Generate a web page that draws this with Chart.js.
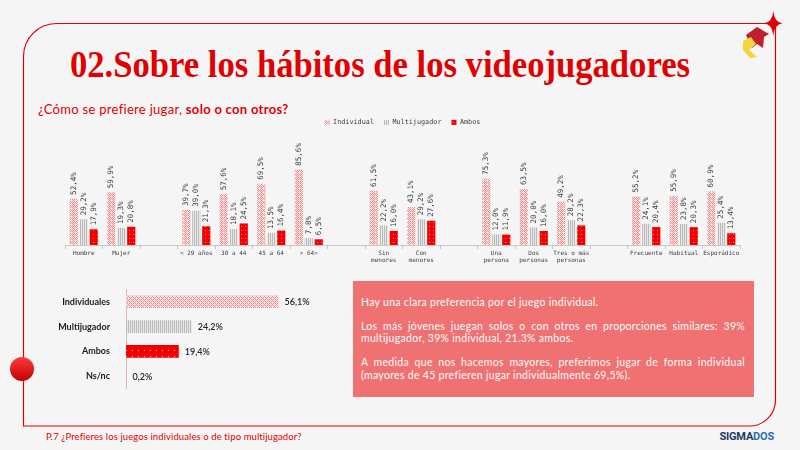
<!DOCTYPE html>
<html>
<head>
<meta charset="utf-8">
<script src="https://cdn.jsdelivr.net/npm/chart.js@4.4.1/dist/chart.umd.min.js"></script>
<style>
  html, body { margin: 0; padding: 0; background: #f5f5f5; }
  #pagina { position: relative; width: 800px; height: 450px; overflow: hidden; background: #f5f5f5; font-family: Lato, sans-serif; }
  #marco { position: absolute; left: 0; top: 0; }
  #titulo { position: absolute; left: 70px; top: 45px; font: bold 38px "Liberation Serif", serif; line-height: 38px; color: #e00000; white-space: nowrap; transform-origin: 0 0; }
  #subtitulo { position: absolute; left: 38px; top: 102px; font-size: 13px; line-height: 15px; letter-spacing: 0.3px; color: #e00000; white-space: nowrap; }
  #subtitulo b { font-weight: 700; }
  #grupos { position: absolute; left: 0; top: 109px; }
  #totales { position: absolute; left: 40px; top: 276px; }
  #nota { position: absolute; left: 353px; top: 281px; width: 401px; height: 116px; box-sizing: border-box; padding: 15px 9px 0 8px; background: #f07171; color: #fff; font-size: 10.5px; line-height: 12.7px; letter-spacing: 0.3px; text-align: justify; }
  #nota p { margin: 0 0 11px 0; }
  #pie { position: absolute; left: 46px; top: 431px; font-size: 9.5px; line-height: 12px; letter-spacing: 0.1px; color: #e00000; white-space: nowrap; }
  #marca { position: absolute; right: 26px; top: 430px; font: bold 11px Roboto, sans-serif; line-height: 14px; color: #1e3a66; letter-spacing: -0.2px; }
  #marca span { color: #2f6db0; }
</style>
</head>
<body>
<div id="pagina">
  <svg id="marco" width="800" height="450">
    <defs>
      <linearGradient id="bola" x1="0" y1="0" x2="0" y2="1">
        <stop offset="0" stop-color="#ff3a3a"/>
        <stop offset="1" stop-color="#c40000"/>
      </linearGradient>
    </defs>
    <path d="M56 23.5 H780 M775.5 23 V400 A26 26 0 0 1 749.5 426 H23.5 V56 A33 33 0 0 1 56 23.5"
          fill="none" stroke="#e00000" stroke-width="1.2"/>
    <path d="M773.3 11 Q774.3 22.3 782.5 23.3 Q774.3 24.3 773.3 35.5 Q772.3 24.3 764 23.3 Q772.3 22.3 773.3 11 Z" fill="#e00000"/>
    <path d="M746 35 L757 27 L769 34 L764 37 L763 48 L757 44 L752 48 Z" fill="#c21f2c"/>
    <path d="M743 41 L751 37 L756 44 L749 50 L757 57 L750 58 L743 50 Z" fill="#f3d53c"/>
    <circle cx="22" cy="369" r="12" fill="url(#bola)"/>
  </svg>

  <div id="titulo">02.Sobre los hábitos de los videojugadores</div>
  <div id="subtitulo">¿Cómo se prefiere jugar, <b>solo o con otros?</b></div>

  <canvas id="grupos" width="800" height="164"></canvas>
  <canvas id="totales" width="300" height="126"></canvas>

  <div id="nota">
    <p>Hay una clara preferencia por el juego individual.</p>
    <p>Los más jóvenes juegan solos o con otros en proporciones similares: 39% multijugador, 39% individual, 21.3% ambos.</p>
    <p>A medida que nos hacemos mayores, preferimos jugar de forma individual (mayores de 45 prefieren jugar individualmente 69,5%).</p>
  </div>

  <div id="pie">P.7 ¿Prefieres los juegos individuales o de tipo multijugador?</div>
  <div id="marca">SIGMA<span>DOS</span></div>
</div>

<script>
// datos del gráfico por segmentos ('' = hueco entre bloques)
const categorias = ['Hombre', 'Mujer', '', '< 29 años', '30 a 44', '45 a 64', '> 64>', '',
  ['Sin', 'menores'], ['Con', 'menores'], '',
  ['Una', 'persona'], ['Dos', 'personas'], ['Tres o más', 'personas'], '',
  'Frecuente', 'Habitual', 'Esporádico'];
const individual   = [52.4, 59.9, null, 39.7, 57.6, 69.5, 85.6, null, 61.5, 43.1, null, 75.3, 63.5, 49.2, null, 55.2, 55.9, 60.9];
const multijugador = [29.2, 19.3, null, 39.0, 18.1, 13.5, 7.8, null, 22.2, 29.2, null, 12.0, 20.0, 28.2, null, 24.1, 23.8, 25.4];
const ambos        = [17.9, 20.8, null, 21.3, 24.5, 16.4, 6.5, null, 16.0, 27.6, null, 11.9, 16.0, 22.3, null, 20.4, 20.3, 13.4];

// datos del total
const totalCategorias = ['Individuales', 'Multijugador', 'Ambos', 'Ns/nc'];
const totalValores = [56.1, 24.2, 19.4, 0.2];

// tramas de relleno
function trama(ancho, alto, fondo, puntos, color) {
  const c = document.createElement('canvas');
  c.width = ancho; c.height = alto;
  const g = c.getContext('2d');
  g.fillStyle = fondo;
  g.fillRect(0, 0, ancho, alto);
  g.fillStyle = color;
  puntos.forEach(([x, y]) => g.fillRect(x, y, 1, 1));
  return g.createPattern(c, 'repeat');
}

const tramaIndividual = trama(4, 4, '#fbe4e4', [[0, 0], [2, 0], [1, 1], [3, 1], [0, 2], [2, 2], [1, 3]], '#ec8e8e');
const tramaMulti = trama(2, 1, '#e8e8e8', [[0, 0]], '#b9b9b9');
const tramaAmbos = trama(4, 4, '#f20000', [[1, 1]], '#ff7070');
const tramaIndividual2 = trama(4, 4, '#fae2e2', [[0, 0], [1, 1], [2, 2], [3, 3], [3, 1], [1, 3]], '#e89292');
const tramaAmbos2 = trama(6, 6, '#f20000', [[2, 2]], '#ffb0b0');

const pct = v => v.toFixed(1).replace('.', ',') + '%';

const etiquetasVerticales = {
  id: 'etiquetasVerticales',
  afterDatasetsDraw(chart) {
    const ctx = chart.ctx;
    ctx.save();
    ctx.font = '7.5px "DejaVu Sans Mono"';
    ctx.fillStyle = '#404040';
    ctx.textAlign = 'left';
    ctx.textBaseline = 'middle';
    chart.data.datasets.forEach((ds, i) => {
      chart.getDatasetMeta(i).data.forEach((barra, j) => {
        const v = ds.data[j];
        if (v == null) return;
        ctx.save();
        ctx.translate(barra.x, barra.y - 4);
        ctx.rotate(-Math.PI / 2);
        ctx.fillText(pct(v), 0, 0);
        ctx.restore();
      });
    });
    ctx.restore();
  }
};

const alturaLeyenda = {
  id: 'alturaLeyenda',
  beforeInit(chart) {
    const fitOriginal = chart.legend.fit;
    chart.legend.fit = function () {
      fitOriginal.bind(chart.legend)();
      this.height = 48;
    };
  }
};

new Chart(document.getElementById('grupos'), {
  type: 'bar',
  data: {
    labels: categorias,
    datasets: [
      { label: 'Individual', data: individual, backgroundColor: tramaIndividual, borderWidth: 0 },
      { label: 'Multijugador', data: multijugador, backgroundColor: tramaMulti, borderWidth: 0 },
      { label: 'Ambos', data: ambos, backgroundColor: tramaAmbos, borderWidth: 0 }
    ]
  },
  options: {
    responsive: false,
    animation: false,
    categoryPercentage: 0.8,
    barPercentage: 0.82,
    layout: { padding: { left: 65, right: 60 } },
    plugins: {
      legend: {
        position: 'top',
        labels: {
          boxWidth: 5,
          boxHeight: 5,
          padding: 10,
          color: '#404040',
          font: { family: '"DejaVu Sans Mono"', size: 6.8 }
        }
      },
      tooltip: { enabled: false }
    },
    scales: {
      x: {
        afterFit: (scale) => { scale.height = 28; },
        grid: { drawOnChartArea: false, tickLength: 4, color: '#c8c8c8' },
        border: { color: '#c8c8c8' },
        ticks: {
          autoSkip: false,
          maxRotation: 0,
          padding: 1,
          color: '#404040',
          font: { family: '"DejaVu Sans Mono"', size: 6 }
        }
      },
      y: { display: false, min: 0, max: 100 }
    }
  },
  plugins: [etiquetasVerticales, alturaLeyenda]
});

const etiquetasTotales = {
  id: 'etiquetasTotales',
  afterDatasetsDraw(chart) {
    const ctx = chart.ctx;
    ctx.save();
    ctx.font = '600 9px Lato';
    ctx.fillStyle = '#262626';
    ctx.textAlign = 'left';
    ctx.textBaseline = 'middle';
    chart.getDatasetMeta(0).data.forEach((barra, j) => {
      ctx.fillText(pct(totalValores[j]), barra.x + 6, barra.y + 0.5);
    });
    ctx.restore();
  }
};

new Chart(document.getElementById('totales'), {
  type: 'bar',
  data: {
    labels: totalCategorias,
    datasets: [{
      data: totalValores,
      backgroundColor: [tramaIndividual2, tramaMulti, tramaAmbos2, '#cdb6ae'],
      borderWidth: 0,
      categoryPercentage: 1,
      barPercentage: 0.51
    }]
  },
  options: {
    indexAxis: 'y',
    responsive: false,
    animation: false,
    layout: { padding: { left: 0, right: 23.6, top: 0, bottom: 0 } },
    plugins: { legend: { display: false }, tooltip: { enabled: false } },
    scales: {
      x: { display: false, min: 0, max: 70 },
      y: {
        afterFit: (scale) => { scale.width = 86; },
        grid: { display: false },
        border: { display: true, color: '#d9b9aa' },
        ticks: { padding: 8, color: '#1a1a1a', font: { family: 'Lato', size: 9, weight: 'bold' } }
      }
    }
  },
  plugins: [etiquetasTotales]
});

// el título ocupa el mismo ancho que en la lámina original
const titulo = document.getElementById('titulo');
titulo.style.transform = 'scaleX(' + (620 / titulo.getBoundingClientRect().width) + ')';
</script>
</body>
</html>
